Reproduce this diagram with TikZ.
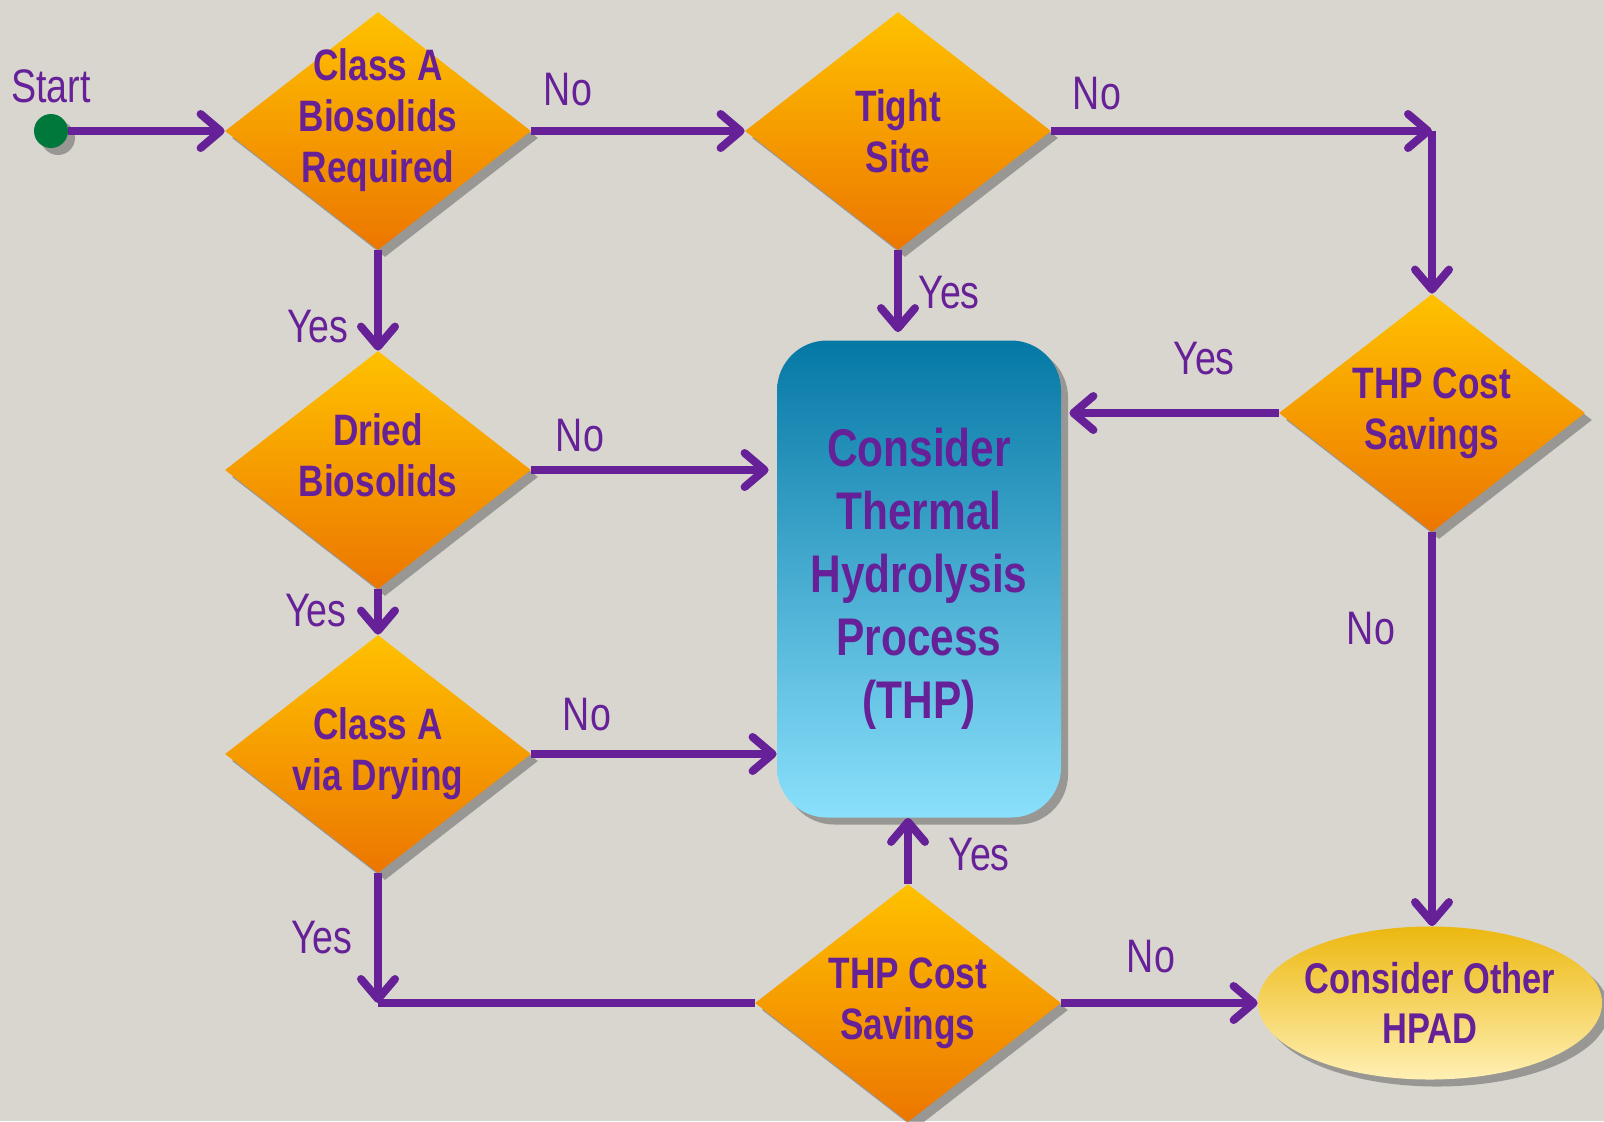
\documentclass[tikz,border=0pt]{standalone}
\usepackage{fontspec}
\setmainfont{Liberation Sans}[FakeStretch=0.8]
\usetikzlibrary{calc}
\usetikzlibrary{positioning}
\usetikzlibrary{shapes.geometric, arrows.meta, shadows}
\definecolor{bgcol}{RGB}{217,214,207}
\definecolor{thppurple}{RGB}{102,32,152}
\definecolor{dtop}{RGB}{255,193,0}
\definecolor{dbot}{RGB}{236,118,0}
\definecolor{btop}{RGB}{5,120,165}
\definecolor{bbot}{RGB}{138,224,252}
\definecolor{etop}{RGB}{236,184,16}
\definecolor{ebot}{RGB}{255,240,180}
\definecolor{startgreen}{RGB}{0,120,60}
\tikzstyle{shade} = [drop shadow={shadow xshift=3.5pt,shadow yshift=-3.5pt,opacity=0.45,fill=black!70}]
\tikzstyle{decision} = [diamond,inner sep=-12pt,minimum width=153pt,minimum height=119pt,top color=dtop,bottom color=dbot,shade,text=thppurple,align=center,font=\bfseries\fontsize{22}{25.5}\selectfont]
\tikzstyle{answer} = [text=thppurple,inner sep=0pt,font=\fontsize{23.5}{26}\selectfont]
\tikzstyle{arrow} = [line width=4pt,draw=thppurple,-{Straight Barb[length=10pt,width=17pt,line cap=round,line join=round]}]
\tikzstyle{line} = [line width=4pt,draw=thppurple]

\begin{document}
\begin{tikzpicture}[x=0.5pt,y=-0.5pt]
	\fill[bgcol] (0,0) rectangle (1604,1121);
	\useasboundingbox (0,0) rectangle (1604,1121);
	\node[circle,fill=startgreen,minimum size=17pt,inner sep=0pt,shade] (start) at (51,131) {};
	\node[answer,above=5pt of start] (start label) {Start};
	\node[decision,text depth=15pt] (class a) at (378,131) {Class A\\Biosolids\\Required};
	\node[decision] (tight) at (898,131) {Tight\\Site};
	\node[decision] (cost r) at (1432,413) {THP Cost\\Savings};
	\node[decision,text depth=15pt] (dried) at (378,470) {Dried\\Biosolids};
	\node[decision] (drying) at (378,754) {Class A\\via Drying};
	\node[decision] (cost b) at (908,1003) {THP Cost\\Savings};
	\node[rectangle,rounded corners=25pt,minimum width=142pt,minimum height=238.5pt,top color=btop,bottom color=bbot,shade,text=thppurple,align=center,font=\bfseries\fontsize{26.5}{31.5}\selectfont] (thp) at (919,579) {Consider\\Thermal\\Hydrolysis\\Process\\(THP)};
	\node[ellipse,inner sep=-4pt,minimum width=172pt,minimum height=76.5pt,top color=etop,bottom color=ebot,shade,text=thppurple,align=center,font=\bfseries\fontsize{21.5}{25}\selectfont] (hpad) at (1430,1003) {Consider Other\\HPAD};
	\coordinate (c1) at (tight.east -| cost r.north);
	\coordinate (c2) at (drying.south |- cost b.west);
	\draw[arrow] (start) -- (class a.west);
	\draw[arrow] (class a.east) -- (tight.west);
	\draw[arrow] (tight.east) -- (c1);
	\draw[arrow] (c1) -- (cost r.north);
	\draw[arrow,shorten >=4pt] (tight.south) -- (tight.south |- thp.north);
	\draw[arrow,shorten >=4pt] (cost r.west) -- (cost r.west -| thp.east);
	\draw[arrow] (cost r.south) -- (cost r.south |- hpad.north);
	\draw[arrow] (class a.south) -- (dried.north);
	\draw[arrow,shorten >=4pt] (dried.east) -- (dried.east -| thp.west);
	\draw[arrow] (dried.south) -- (drying.north);
	\draw[arrow] (drying.east) -- (drying.east -| thp.west);
	\draw[arrow] (drying.south) -- (c2);
	\draw[line] (c2) -- (cost b.west);
	\draw[arrow] (cost b.north) -- (cost b.north |- thp.south);
	\draw[arrow] (cost b.east) -- (hpad.west);
	\node[answer] (no 1) at (568,90) {No};
	\node[answer] (no 2) at (1097,94) {No};
	\node[answer] (yes 2) at (949,293) {Yes};
	\node[answer] (yes 3) at (1204,359) {Yes};
	\node[answer] (no 3) at (1371,629) {No};
	\node[answer] (yes 1) at (318,327) {Yes};
	\node[answer] (no 4) at (580,436) {No};
	\node[answer] (yes 4) at (316,611) {Yes};
	\node[answer] (no 5) at (587,715) {No};
	\node[answer] (yes 5) at (322,938) {Yes};
	\node[answer] (yes 6) at (979,855) {Yes};
	\node[answer] (no 6) at (1151,957) {No};
\end{tikzpicture}
\end{document}
